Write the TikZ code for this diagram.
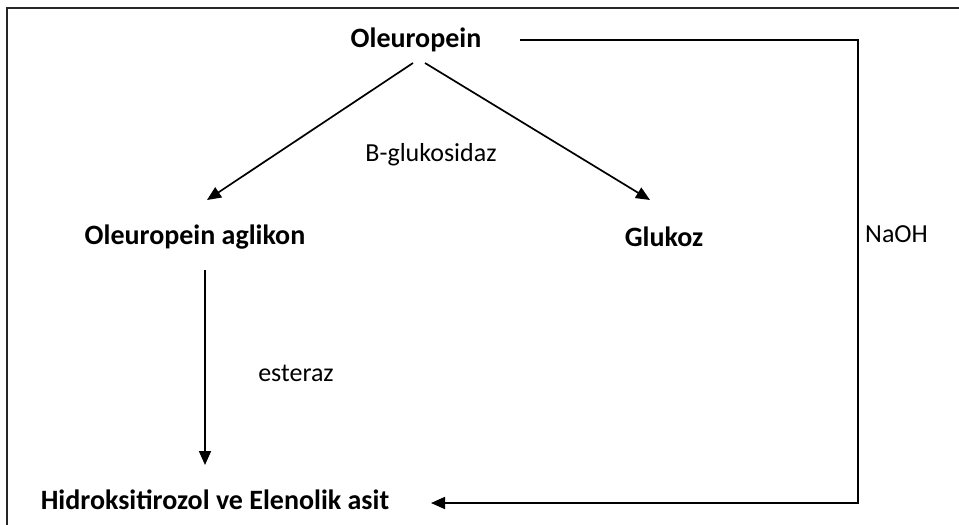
\documentclass[tikz,border=0pt]{standalone}
\usepackage{fontspec}
\setmainfont{Carlito}
\usetikzlibrary{arrows.meta}
\begin{document}
\begin{tikzpicture}[x=1pt,y=-1pt,
  title/.style={font=\fontsize{28}{32}\selectfont\bfseries, inner sep=0pt, anchor=center},
  lbl/.style={font=\fontsize{26}{30}\selectfont, inner sep=0pt, anchor=center},
  conn/.style={line width=1.7pt, -{Triangle[length=14pt,width=12pt]}},
  plain/.style={line width=1.7pt}]
\useasboundingbox (0,0) rectangle (959,525);
\fill[white] (0,0) rectangle (959,525);
\draw[line width=2pt, black!85] (7,530) -- (7,8) -- (965,8);
\node[title] (ol) at (416,40) {Oleuropein};
\node[title] (ag) at (195,237) {Oleuropein aglikon};
\node[title] (gl) at (664,237) {Glukoz};
\node[title] (hy) at (215,500) {Hidroksitirozol ve Elenolik asit};
\node[lbl] (bg) at (431,155) {B-glukosidaz};
\node[lbl] (es) at (296,373) {esteraz};
\node[lbl, anchor=west] (na) at (865,234) {NaOH};
\coordinate (olL) at (413,63);
\coordinate (olR) at (425,63);
\coordinate (agT) at (207,200);
\coordinate (glT) at (650,200);
\coordinate (olE) at (520,40);
\coordinate (cTR) at (858,40);
\coordinate (cBR) at (858,503);
\coordinate (hyE) at (431,503);
\coordinate (agB) at (205,270);
\coordinate (hyT) at (205,465);
\draw[conn] (olL) -- (agT);
\draw[conn] (olR) -- (glT);
\draw[conn] (agB) -- (hyT);
\draw[conn] (olE) -- (cTR) -- (cBR) -- (hyE);
\end{tikzpicture}
\end{document}
